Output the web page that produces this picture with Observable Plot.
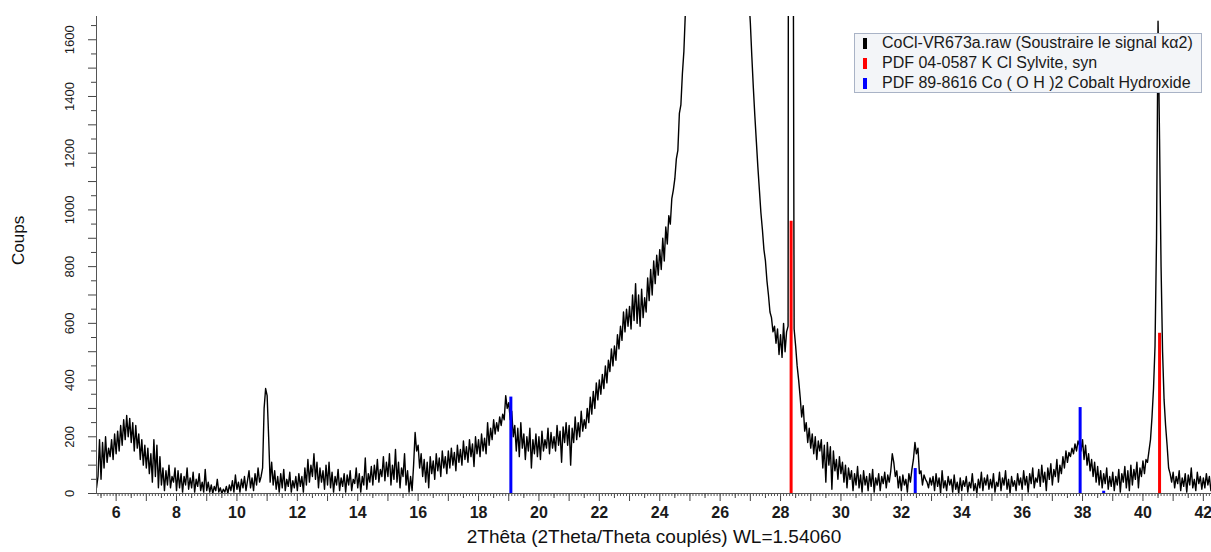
<!DOCTYPE html>
<html><head><meta charset="utf-8">
<script src="https://cdn.jsdelivr.net/npm/d3@7"></script>
<script src="https://cdn.jsdelivr.net/npm/@observablehq/plot@0.6"></script>
<style>
html,body{margin:0;padding:0;background:#fff;}
#wrap{position:relative;width:1211px;height:552px;overflow:hidden;}
#legend{position:absolute;left:854px;top:33px;width:346px;height:58px;background:#f3f5f8;border:1px solid #a9b3c6;font-family:"Liberation Sans",Arial,sans-serif;font-size:16px;color:#1a1a1a;}
.row{position:absolute;left:0;height:20px;line-height:20px;white-space:nowrap;}
.sw{position:absolute;left:8px;top:5px;width:4px;height:11px;}
.lab{position:absolute;left:27px;top:0;}
</style></head><body>
<div id="wrap"><div id="chart"></div><div id="legend"></div></div>
<script>
// Scan: 2θ from scanStart with scanStep (degrees), counts
const scanStart = 5.35, scanStep = 0.05;
const counts = [
  20,60,190,50,180,90,200,110,160,130,190,120,210,
  140,220,150,240,170,260,190,275,200,265,180,250,150,240,160,210,120,190,100,170,
  90,160,70,140,40,190,60,170,20,130,30,90,10,80,30,100,20,60,40,90,
  10,80,20,70,5,60,30,90,15,55,20,75,5,50,25,70,10,40,5,85,
  10,40,5,30,0,25,10,50,5,20,0,15,5,25,0,30,10,45,5,65,
  15,40,5,50,20,60,10,45,80,20,55,10,70,30,90,40,60,90,300,370,
  345,200,40,110,30,80,15,60,5,70,20,85,10,50,25,75,5,45,20,60,
  10,70,25,60,5,90,30,120,40,100,60,140,50,110,20,90,40,80,15,100,
  30,110,20,75,5,60,30,85,10,55,25,70,5,65,30,80,10,50,35,90,
  20,70,5,60,30,125,15,70,40,95,30,100,50,120,40,85,60,130,45,110,
  60,140,30,100,50,155,40,110,20,90,60,140,30,80,5,60,10,100,215,150,
  170,90,140,60,120,40,110,20,130,70,115,50,140,80,125,60,150,90,130,70,
  150,90,160,100,145,80,170,110,155,100,185,120,165,110,190,130,175,95,200,140,
  190,130,210,150,195,140,250,170,230,190,260,210,250,220,270,240,280,260,345,300,
  320,260,290,200,240,150,230,130,250,160,210,120,200,150,230,90,190,140,210,130,
  200,120,220,150,190,160,230,140,215,160,200,150,240,170,220,110,235,180,250,170,
  240,100,230,180,270,190,250,200,290,220,260,230,300,250,340,280,360,300,390,330,
  400,350,420,370,450,390,470,430,510,450,520,470,560,510,590,540,640,570,650,590,
  660,580,700,610,740,600,700,590,720,620,690,640,760,680,790,700,820,740,840,770,
  860,790,900,820,940,880,980,950,1040,1070,1110,1180,1210,1340,1370,1480,1560,1700,1850,2000,
  2150,2300,2450,2600,2750,2900,3050,3180,3300,3400,3480,3550,3600,3640,3670,3690,3700,3700,3690,3670,
  3640,3600,3550,3480,3400,3300,3180,3050,2900,2750,2600,2450,2300,2150,2020,1950,1880,1820,1780,1750,
  1660,1540,1430,1330,1240,1150,1070,990,930,860,820,750,700,640,620,570,590,530,580,490,
  560,480,600,500,570,590,8000,9000,3000,580,520,450,400,340,270,310,220,250,180,230,
  160,210,140,200,120,185,150,190,90,170,40,180,100,165,15,150,80,120,50,130,
  70,110,40,100,20,90,50,80,10,70,30,95,20,65,5,80,30,60,10,70,
  25,85,5,55,30,70,10,60,35,75,20,65,40,80,140,110,60,80,20,60,
  10,65,30,50,5,70,40,85,120,180,140,160,70,80,30,65,50,40,20,55,
  30,60,10,70,25,55,0,80,20,45,10,60,30,50,5,65,15,40,0,55,
  10,45,25,60,5,40,20,70,10,35,0,50,20,75,10,55,30,65,15,50,
  20,70,5,40,25,75,10,55,30,80,15,50,0,60,25,45,10,70,30,55,
  15,80,30,60,5,70,35,90,20,55,40,85,25,100,40,75,10,90,50,105,
  30,85,60,120,40,100,70,130,90,150,110,145,130,160,140,175,150,185,170,150,
  190,120,170,100,140,80,120,60,110,40,95,30,80,20,70,35,90,15,60,25,
  75,10,60,30,85,5,70,40,95,20,80,10,100,30,85,50,110,20,90,60,
  115,70,120,110,150,190,270,370,520,900,1665,1250,800,500,330,240,170,90,70,40,
  75,20,60,35,80,10,55,25,70,5,65,30,90,20,50,10,75,35,60,15,
  55,20,70,30,60,10,45
];

// Reference patterns (stick positions in 2θ and heights in counts)
const kclPos = [28.35, 40.55];
const kclInt = [960, 565];
const cohPos = [19.07, 32.46, 37.92, 38.70];
const cohInt = [340, 88, 303, 8];

// Legend
const legendLabels = [
  "CoCl-VR673a.raw (Soustraire le signal kα2)",
  "PDF 04-0587 K Cl Sylvite, syn",
  "PDF 89-8616 Co ( O H )2 Cobalt Hydroxide"
];
const legendColors = ["#000000", "#ff0000", "#0000ff"];

// Axes
const xDomain = [5.35, 42.27];
const yDomain = [0, 1682];
const xTitle = "2Thêta (2Theta/Theta couplés) WL=1.54060";
const yTitle = "Coups";
const xInt = d3.range(6, 43);
const xHalf = d3.range(5.5, 42.5, 1);
const xTenth = d3.range(54, 423).map(i => i / 10);
const yLabelTicks = d3.range(0, 1700, 200);
const yMajor = d3.range(0, 1700, 100);
const yMinor = d3.range(50, 1700, 100);

const scan = counts.map((c, i) => ({t: +(scanStart + i * scanStep).toFixed(2), c}));

const chart = Plot.plot({
  width: 1211, height: 552,
  marginLeft: 96, marginRight: 0, marginTop: 16, marginBottom: 59,
  style: {fontFamily: "'Liberation Sans', Arial, sans-serif", background: "#fff", color: "#1a1a1a"},
  x: {domain: xDomain},
  y: {domain: yDomain},
  marks: [
    Plot.line(scan, {x: "t", y: "c", stroke: "#000", strokeWidth: 1.4, clip: true}),
    Plot.ruleX(kclPos, {x: d => d, y1: 0, y2: (d, i) => kclInt[i], stroke: "#ff0000", strokeWidth: 3}),
    Plot.ruleX(cohPos, {x: d => d, y1: 0, y2: (d, i) => cohInt[i], stroke: "#0000ff", strokeWidth: 3}),
    Plot.ruleX([xDomain[0]], {stroke: "#555"}),
    Plot.ruleY([0], {stroke: "#555"}),
    Plot.axisY({ticks: yMajor, tickSize: 8, stroke: "#444", tickFormat: () => "", label: null}),
    Plot.axisY({ticks: yMinor, tickSize: 5, stroke: "#444", tickFormat: () => "", label: null}),
    Plot.axisY({ticks: yLabelTicks, tickSize: 0, tickRotate: -90, dx: -14, fontSize: 13,
      tickFormat: d => String(d), label: null}),
    Plot.axisX({ticks: xInt, tickSize: 8, stroke: "#444", tickPadding: 5,
      tickFormat: d => d % 2 === 0 ? String(d) : "", fontSize: 16, fontWeight: "bold", label: null}),
    Plot.axisX({ticks: xHalf, tickSize: 5, stroke: "#444", tickFormat: () => "", label: null}),
    Plot.axisX({ticks: xTenth, tickSize: 3, stroke: "#555", tickFormat: () => "", label: null}),
    Plot.text([xTitle], {frameAnchor: "bottom", dy: 49, fontSize: 19, fill: "#111"}),
    Plot.text([yTitle], {frameAnchor: "left", dx: -78, dy: 10, rotate: -90, fontSize: 17, fill: "#111"})
  ]
});
document.getElementById("chart").appendChild(chart);

const legend = document.getElementById("legend");
legendLabels.forEach((lab, i) => {
  const row = document.createElement("div");
  row.className = "row";
  row.style.top = (-1 + i * 20) + "px";
  const sw = document.createElement("div");
  sw.className = "sw";
  sw.style.background = legendColors[i];
  const tx = document.createElement("div");
  tx.className = "lab";
  tx.textContent = lab;
  row.appendChild(sw); row.appendChild(tx);
  legend.appendChild(row);
});
</script>
</body></html>
